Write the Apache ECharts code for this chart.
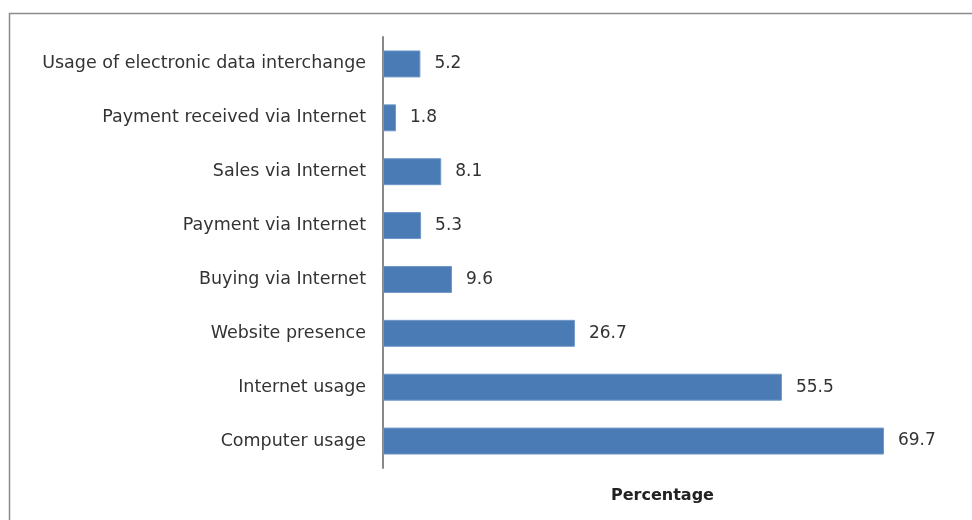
<!DOCTYPE html>
<html><head><meta charset="utf-8">
<script src="https://cdn.jsdelivr.net/npm/echarts@6/dist/echarts.min.js"></script>
<style>html,body{margin:0;padding:0;background:#fff}#c{width:972px;height:520px}</style>
</head><body><div id="c"></div>
<script>
const categories = ["Computer usage","Internet usage","Website presence","Buying via Internet","Payment via Internet","Sales via Internet","Payment received via Internet","Usage of electronic data interchange"];
const values = [69.7,55.5,26.7,9.6,5.3,8.1,1.8,5.2];
const axisName = "Percentage";
const chart = echarts.init(document.getElementById('c'));
chart.setOption({
  animation:false,
  graphic:[{type:'rect',shape:{x:9.5,y:13.5,width:980,height:520},style:{fill:'none',stroke:'#8c8c8c',lineWidth:1.5}}],
  grid:{left:383,top:37,width:575,height:431},
  xAxis:{type:'value',min:0,max:80,show:true,axisLine:{show:false},axisTick:{show:false},axisLabel:{show:false},splitLine:{show:false},
    name:axisName,nameLocation:'middle',nameGap:20,nameTextStyle:{fontFamily:'DejaVu Sans',fontWeight:'bold',fontSize:16,color:'#222',padding:[0,16,0,0]}},
  yAxis:{type:'category',data:categories,axisLine:{lineStyle:{color:'#888',width:2}},axisTick:{show:false},
    axisLabel:{margin:17,fontFamily:'DejaVu Sans',fontSize:17.5,color:'#333'}},
  series:[{type:'bar',data:values,barWidth:'50%',itemStyle:{color:'#4b7bb5',borderColor:'#6e97c8',borderWidth:1},
    label:{show:true,position:'right',distance:14,fontFamily:'DejaVu Sans',fontSize:17,color:'#333'}}]
});
</script></body></html>
